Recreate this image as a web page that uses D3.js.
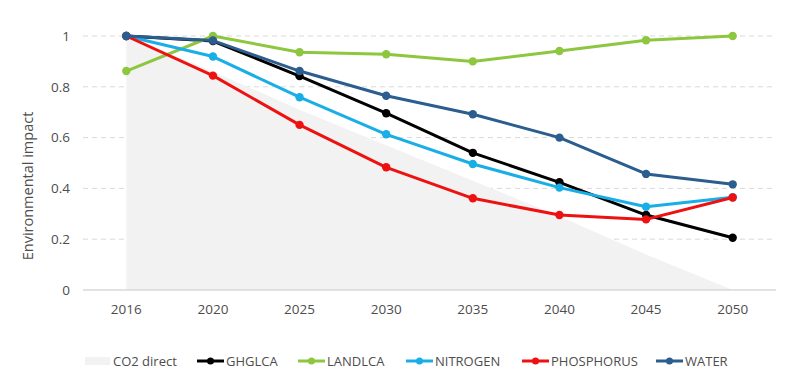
<!DOCTYPE html>
<html>
<head>
<meta charset="utf-8">
<script src="https://cdn.jsdelivr.net/npm/d3@7"></script>
<style>
  body { margin: 0; background: #fff; }
  svg text { font-family: "Open Sans", "Noto Sans", sans-serif; fill: #4d4d4d; }
</style>
</head>
<body>
<div id="chart"></div>
<script>
'use strict';

// data
var years = ["2016", "2020", "2025", "2030", "2035", "2040", "2045", "2050"];
var yTicks = [0, 0.2, 0.4, 0.6, 0.8, 1];

var co2Direct  = [1, 0.86, 0.71, 0.57, 0.43, 0.29, 0.14, 0];
var ghglca     = [1, 0.98, 0.842, 0.696, 0.54, 0.424, 0.295, 0.206];
var landlca    = [0.862, 1, 0.936, 0.928, 0.9, 0.941, 0.983, 1];
var nitrogen   = [1, 0.919, 0.759, 0.613, 0.496, 0.403, 0.328, 0.365];
var phosphorus = [1, 0.844, 0.65, 0.483, 0.361, 0.295, 0.278, 0.364];
var water      = [1, 0.982, 0.862, 0.765, 0.692, 0.6, 0.457, 0.416];

var lineSeries = [
    { name: "GHGLCA", values: ghglca, color: "#000000" },
    { name: "LANDLCA", values: landlca, color: "#8dc63f" },
    { name: "NITROGEN", values: nitrogen, color: "#19aee6" },
    { name: "PHOSPHORUS", values: phosphorus, color: "#ee1111" },
    { name: "WATER", values: water, color: "#2b5d8e" }
];

var width = 786;
var height = 388;

var svg = d3.select('#chart')
    .append('svg')
    .attr('width', width)
    .attr('height', height);

var x = d3.scaleBand().domain(years).range([83, 776]);
var y = d3.scaleLinear().domain([0, 1]).range([290, 36]);
var cx = function(d, i) { return x(years[i]) + x.bandwidth() / 2; };

// gridlines
svg.append('g')
    .selectAll('line')
    .data(yTicks.filter(function(t) { return t > 0; }))
    .enter()
    .append('line')
    .attr('x1', 83).attr('x2', 776)
    .attr('y1', function(d) { return y(d); })
    .attr('y2', function(d) { return y(d); })
    .attr('stroke', '#d9d9d9')
    .attr('stroke-width', 1)
    .attr('stroke-dasharray', '5,4');

// CO2 direct area
var area = d3.area()
    .x(cx)
    .y0(y(0))
    .y1(function(d) { return y(d); });

svg.append('path')
    .datum(co2Direct)
    .attr('d', area)
    .attr('fill', '#f2f2f2');

// x axis line
svg.append('line')
    .attr('x1', 83).attr('x2', 776)
    .attr('y1', y(0)).attr('y2', y(0))
    .attr('stroke', '#d9d9d9')
    .attr('stroke-width', 1.5);

// y tick labels
svg.append('g')
    .selectAll('text')
    .data(yTicks)
    .enter()
    .append('text')
    .attr('x', 70)
    .attr('y', function(d) { return y(d); })
    .attr('dy', '0.35em')
    .attr('text-anchor', 'end')
    .style('font-size', '13.5px')
    .text(function(d) { return d3.format('')(d); });

// x tick labels
svg.append('g')
    .selectAll('text')
    .data(years)
    .enter()
    .append('text')
    .attr('x', function(d) { return x(d) + x.bandwidth() / 2; })
    .attr('y', 309)
    .attr('dy', '0.35em')
    .attr('text-anchor', 'middle')
    .style('font-size', '13.5px')
    .text(function(d) { return d; });

// y title
svg.append('text')
    .attr('transform', 'translate(28,186) rotate(-90)')
    .attr('dy', '0.35em')
    .attr('text-anchor', 'middle')
    .style('font-size', '14.5px')
    .text('Environmental impact');

// lines and markers
var line = d3.line()
    .x(cx)
    .y(function(d) { return y(d); });

lineSeries.forEach(function(s) {
    var g = svg.append('g');
    g.append('path')
        .datum(s.values)
        .attr('d', line)
        .attr('fill', 'none')
        .attr('stroke', s.color)
        .attr('stroke-width', 3)
        .attr('stroke-linejoin', 'round');
    g.selectAll('circle')
        .data(s.values)
        .enter()
        .append('circle')
        .attr('cx', cx)
        .attr('cy', function(d) { return y(d); })
        .attr('r', 4.2)
        .attr('fill', s.color);
});

// legend
var legendY = 361;
var legend = svg.append('g');

legend.append('rect')
    .attr('x', 85).attr('y', legendY - 4)
    .attr('width', 25).attr('height', 8)
    .attr('fill', '#f2f2f2');
legend.append('text')
    .attr('x', 113).attr('y', legendY)
    .attr('dy', '0.35em')
    .style('font-size', '13px')
    .text('CO2 direct');

var legendX = [197, 298, 406, 522, 656];
lineSeries.forEach(function(s, i) {
    var lx = legendX[i];
    legend.append('line')
        .attr('x1', lx).attr('x2', lx + 27)
        .attr('y1', legendY).attr('y2', legendY)
        .attr('stroke', s.color)
        .attr('stroke-width', 3);
    legend.append('circle')
        .attr('cx', lx + 13.5).attr('cy', legendY)
        .attr('r', 3.5)
        .attr('fill', s.color);
    legend.append('text')
        .attr('x', lx + 29).attr('y', legendY)
        .attr('dy', '0.35em')
        .style('font-size', '13px')
        .text(s.name);
});
</script>
</body>
</html>
